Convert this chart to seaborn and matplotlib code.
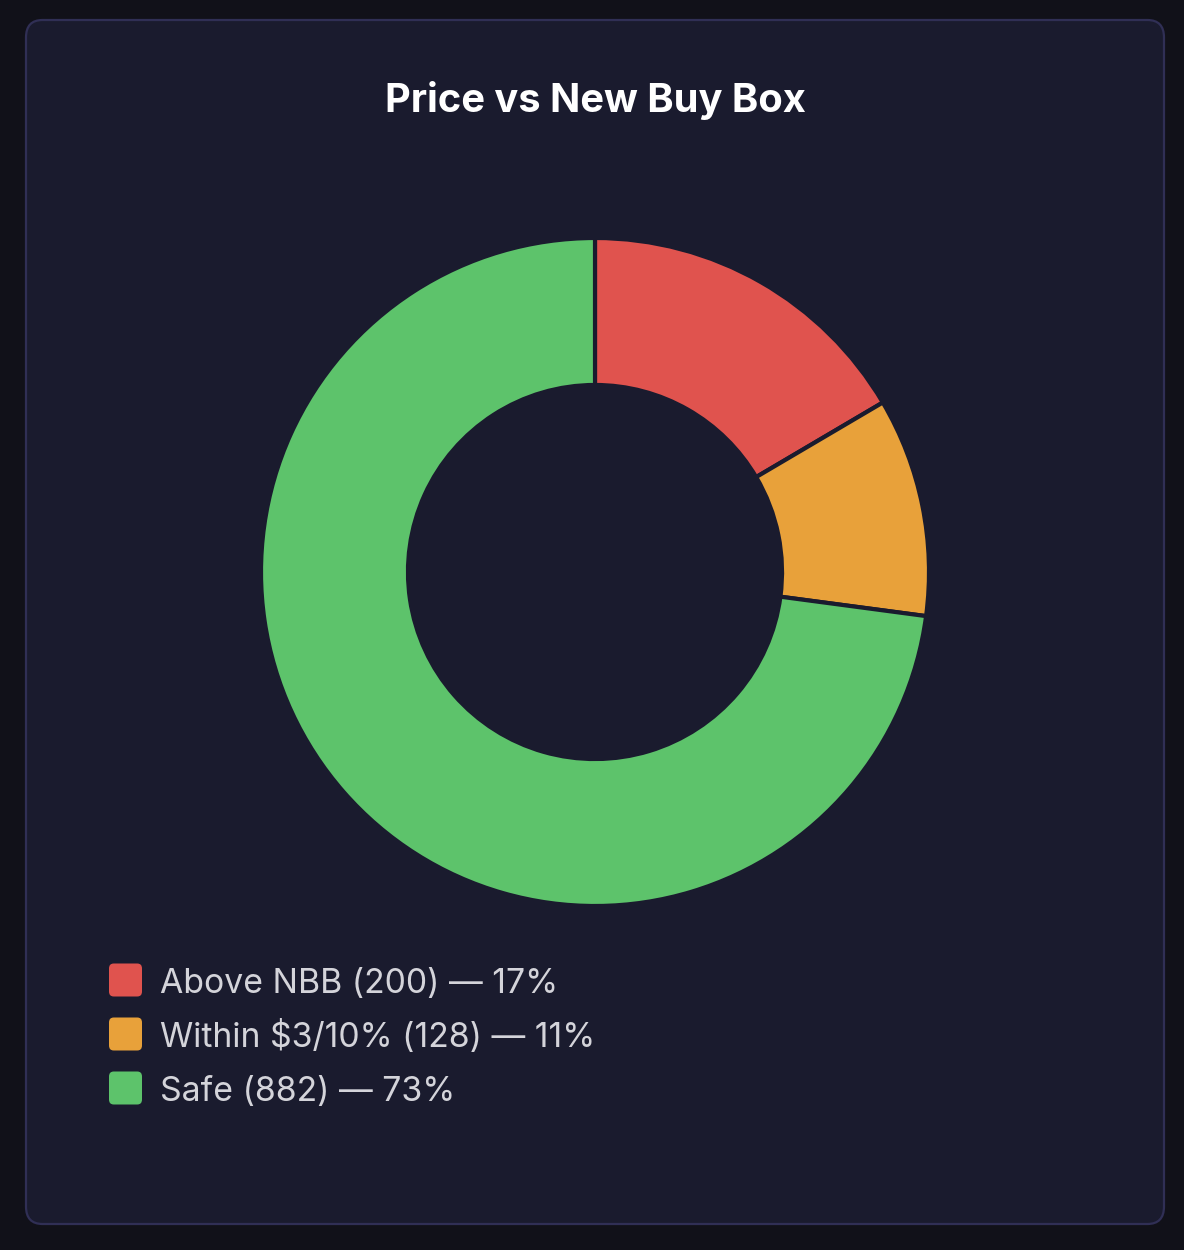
import matplotlib
matplotlib.use("Agg")
import matplotlib.pyplot as plt
from matplotlib.patches import FancyBboxPatch
import seaborn as sns

# data
labels = ["Above NBB", "Within $3/10%", "Safe"]
counts = [200, 128, 882]
colors = ["#e0534e", "#e8a13a", "#5dc36b"]
title = "Price vs New Buy Box"

page_bg = "#111119"
card_bg = "#1a1b2e"
card_edge = "#302f55"
text_col = "#d4d4da"

sns.set_theme(style="white")
plt.rcParams["font.family"] = ["Inter", "DejaVu Sans"]

W, H = 1184, 1250
fig = plt.figure(figsize=(W / 100, H / 100), dpi=100)
fig.patch.set_facecolor(page_bg)

# card background
card = FancyBboxPatch((26 / W, (H - 1224) / H), 1138 / W, 1204 / H,
                      boxstyle="round,pad=0,rounding_size=0.014",
                      transform=fig.transFigure, facecolor=card_bg,
                      edgecolor=card_edge, linewidth=1.6, zorder=-10)
fig.patches.append(card)

fig.text(595 / W, 1 - 100 / H, title, ha="center", va="center",
         color="white", fontsize=28.7, fontweight="bold")

# donut
cx, cy, r = 595, 572, 334
ax = fig.add_axes([(cx - r) / W, 1 - (cy + r) / H, 2 * r / W, 2 * r / H])
ax.set_zorder(5)
ax.set_facecolor("none")
ax.pie(counts, colors=colors, startangle=90, counterclock=False,
       radius=1, wedgeprops=dict(width=0.44, edgecolor=card_bg, linewidth=3))
ax.set_xlim(-1, 1)
ax.set_ylim(-1, 1)
ax.set_aspect("equal")
ax.axis("off")

# legend
total = sum(counts)
for i, (lab, n, c) in enumerate(zip(labels, counts, colors)):
    yc = 980 + i * 54
    sq = FancyBboxPatch((109 / W, 1 - (yc + 16.5) / H), 33 / W, 33 / H,
                        boxstyle="round,pad=0,rounding_size=0.004",
                        transform=fig.transFigure, facecolor=c,
                        edgecolor="none")
    fig.patches.append(sq)
    pct = round(n / total * 100)
    fig.text(160 / W, 1 - yc / H, f"{lab} ({n}) — {pct}%", ha="left",
             va="center_baseline", color=text_col, fontsize=24.3)

fig.savefig("out.png", dpi=100, facecolor=page_bg)
